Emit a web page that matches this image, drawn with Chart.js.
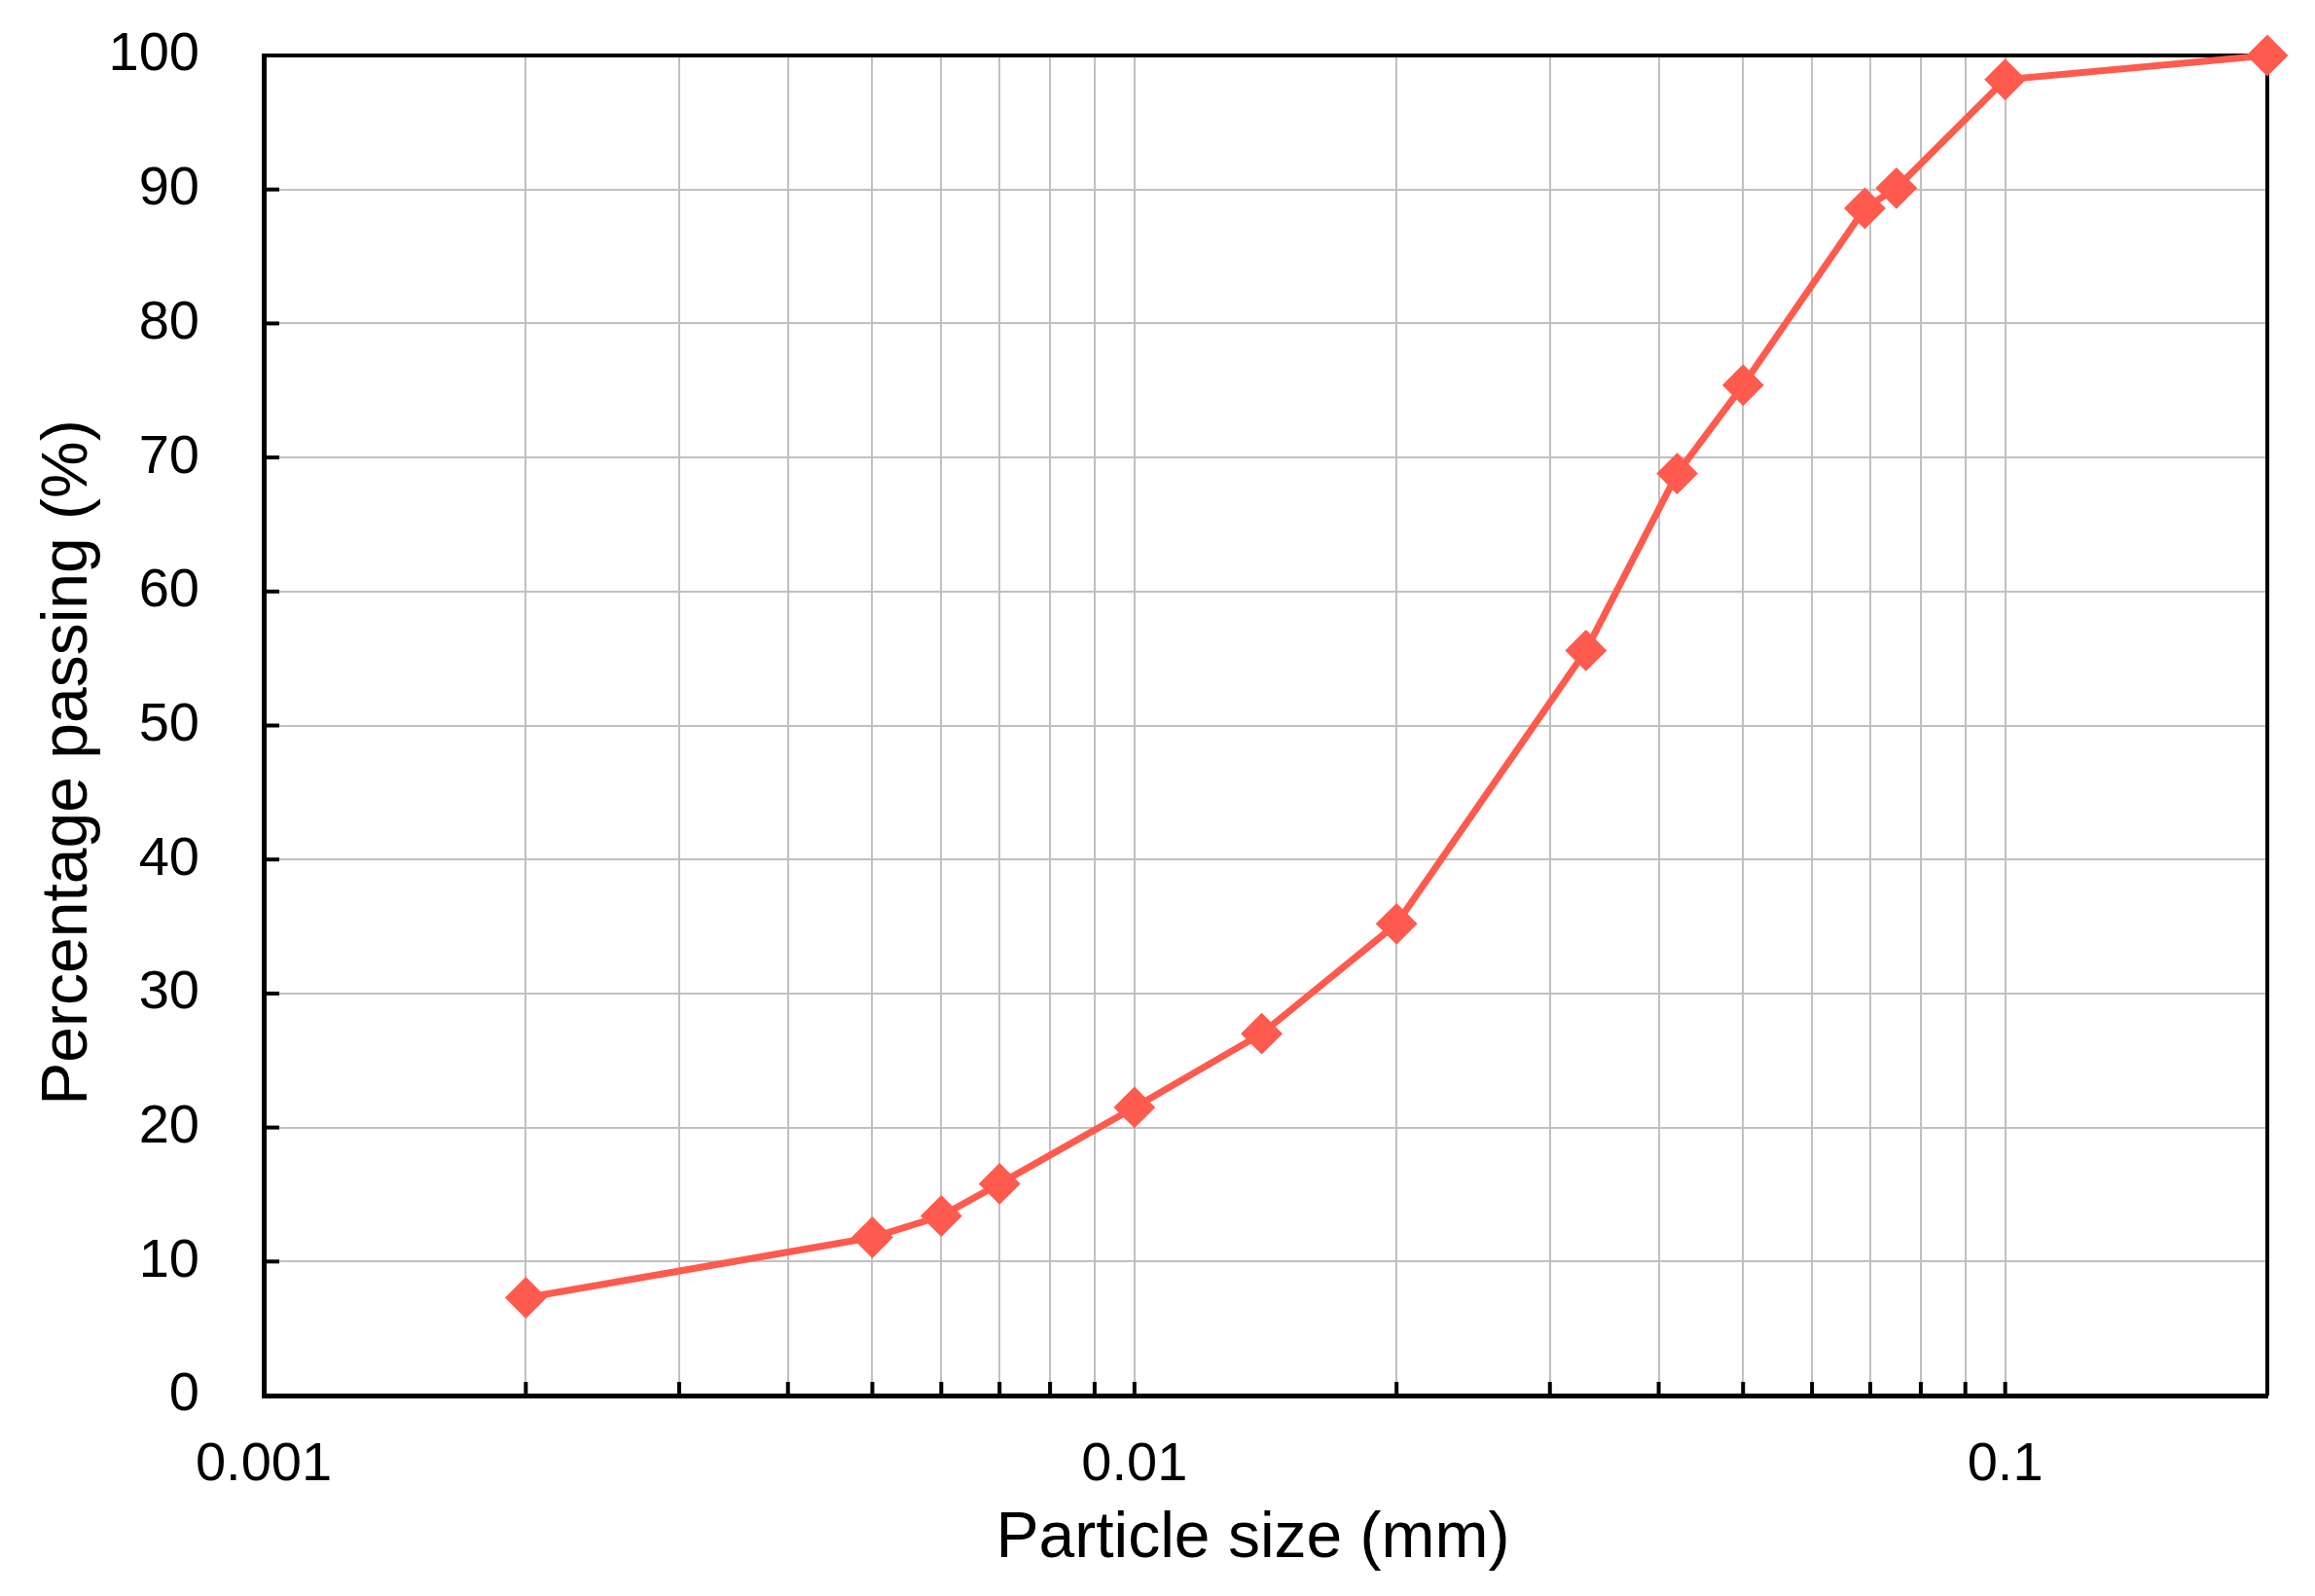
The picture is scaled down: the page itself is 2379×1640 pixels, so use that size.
<!DOCTYPE html>
<html>
<head>
<meta charset="utf-8">
<script src="https://cdn.jsdelivr.net/npm/chart.js@4.4.1/dist/chart.umd.min.js"></script>
<style>
  html, body { margin: 0; padding: 0; background: #ffffff; }
  canvas { display: block; }
</style>
</head>
<body>
<canvas id="chart" width="2379" height="1640" style="width:2379px;height:1640px"></canvas>
<script>
// ---- Data ----
const particleSize = [0.002, 0.005, 0.006, 0.007, 0.01, 0.014, 0.02, 0.033, 0.042, 0.05, 0.069, 0.075, 0.1, 0.2];
const percentPassing = [7.3, 11.8, 13.4, 15.8, 21.5, 27.0, 35.2, 55.6, 68.8, 75.4, 88.6, 90.1, 98.2, 100];
const xTickLabels = ['0.001', '0.01', '0.1'];
const xGridValues = [0.001, 0.002, 0.003, 0.004, 0.005, 0.006, 0.007, 0.008, 0.009,
                     0.01, 0.02, 0.03, 0.04, 0.05, 0.06, 0.07, 0.08, 0.09, 0.1, 0.2];
const yTickValues = [0, 10, 20, 30, 40, 50, 60, 70, 80, 90, 100];
const xTitle = 'Particle size (mm)';
const yTitle = 'Percentage passing (%)';

const lineColor = 'rgb(255, 90, 78)';
const FONT = '"Liberation Sans", Arial, sans-serif';

const framePlugin = {
  id: 'frameAndTicks',
  afterLayout(chart) {
    // nudge the axis titles slightly, as in the reference
    const shifts = { x: [-13, 0], y: [0, 38] };
    Object.keys(shifts).forEach(id => {
      const s = chart.scales[id];
      if (!s || s._titleShifted) return;
      const orig = s.drawTitle;
      s.drawTitle = function () {
        this.ctx.save();
        this.ctx.translate(shifts[id][0], shifts[id][1]);
        orig.apply(this, arguments);
        this.ctx.restore();
      };
      s._titleShifted = true;
    });
  },
  beforeDatasetsDraw(chart) {
    const { ctx, chartArea: a, scales: { x, y } } = chart;
    ctx.save();
    ctx.strokeStyle = '#000';
    ctx.lineCap = 'butt';
    // top and right frame
    ctx.lineWidth = 4;
    ctx.beginPath();
    ctx.moveTo(a.left, a.top);
    ctx.lineTo(a.right, a.top);
    ctx.lineTo(a.right, a.bottom);
    ctx.stroke();
    // inward tick marks on x axis
    xGridValues.forEach(v => {
      const px = x.getPixelForValue(v);
      if (px <= a.left + 3 || px >= a.right - 3) return;
      ctx.beginPath();
      ctx.moveTo(px, a.bottom);
      ctx.lineTo(px, a.bottom - 14);
      ctx.stroke();
    });
    // inward tick marks on y axis
    yTickValues.forEach(v => {
      const py = y.getPixelForValue(v);
      if (py <= a.top + 3 || py >= a.bottom - 3) return;
      ctx.beginPath();
      ctx.moveTo(a.left, py);
      ctx.lineTo(a.left + 16, py);
      ctx.stroke();
    });
    ctx.restore();
  }
};

new Chart(document.getElementById('chart'), {
  type: 'line',
  data: {
    datasets: [{
      data: particleSize.map((s, i) => ({ x: s, y: percentPassing[i] })),
      borderColor: lineColor,
      backgroundColor: lineColor,
      borderWidth: 7,
      pointStyle: 'rectRot',
      pointRadius: 20,
      pointBorderWidth: 2,
      pointBackgroundColor: lineColor,
      pointBorderColor: lineColor,
      tension: 0,
      fill: false,
      clip: false
    }]
  },
  options: {
    responsive: false,
    devicePixelRatio: 1,
    animation: false,
    layout: { padding: { top: 57, right: 49, left: 0, bottom: 0 } },
    plugins: {
      legend: { display: false },
      tooltip: { enabled: false }
    },
    scales: {
      x: {
        type: 'logarithmic',
        min: 0.001,
        max: 0.2,
        afterBuildTicks: (scale) => {
          scale.ticks = xGridValues.map(v => ({ value: v }));
        },
        afterFit: (scale) => {
          scale.height = 206;
          scale.paddingLeft = 0;
          scale.paddingRight = 0;
        },
        grid: { color: '#c0c0c0', lineWidth: 2, drawTicks: false },
        border: { display: true, color: '#000', width: 5 },
        ticks: {
          autoSkip: false,
          maxRotation: 0,
          padding: 38,
          color: '#000',
          font: { family: FONT, size: 56 },
          callback: (value) => {
            const lab = xTickLabels.find(t => Math.abs(parseFloat(t) - value) < 1e-9);
            return lab === undefined ? '' : lab;
          }
        },
        title: {
          display: true,
          text: xTitle,
          color: '#000',
          font: { family: FONT, size: 66 },
          padding: { top: 0, bottom: 19 }
        }
      },
      y: {
        type: 'linear',
        min: 0,
        max: 100,
        afterBuildTicks: (scale) => {
          scale.ticks = yTickValues.map(v => ({ value: v }));
        },
        afterFit: (scale) => {
          scale.width = 271;
          scale.paddingTop = 0;
          scale.paddingBottom = 0;
        },
        grid: { color: '#c0c0c0', lineWidth: 2, drawTicks: false },
        border: { display: true, color: '#000', width: 5 },
        ticks: {
          padding: 66,
          color: '#000',
          font: { family: FONT, size: 56 }
        },
        title: {
          display: true,
          text: yTitle,
          color: '#000',
          font: { family: FONT, size: 66 },
          padding: { top: 31, bottom: 0 }
        }
      }
    }
  },
  plugins: [framePlugin]
});
</script>
</body>
</html>
